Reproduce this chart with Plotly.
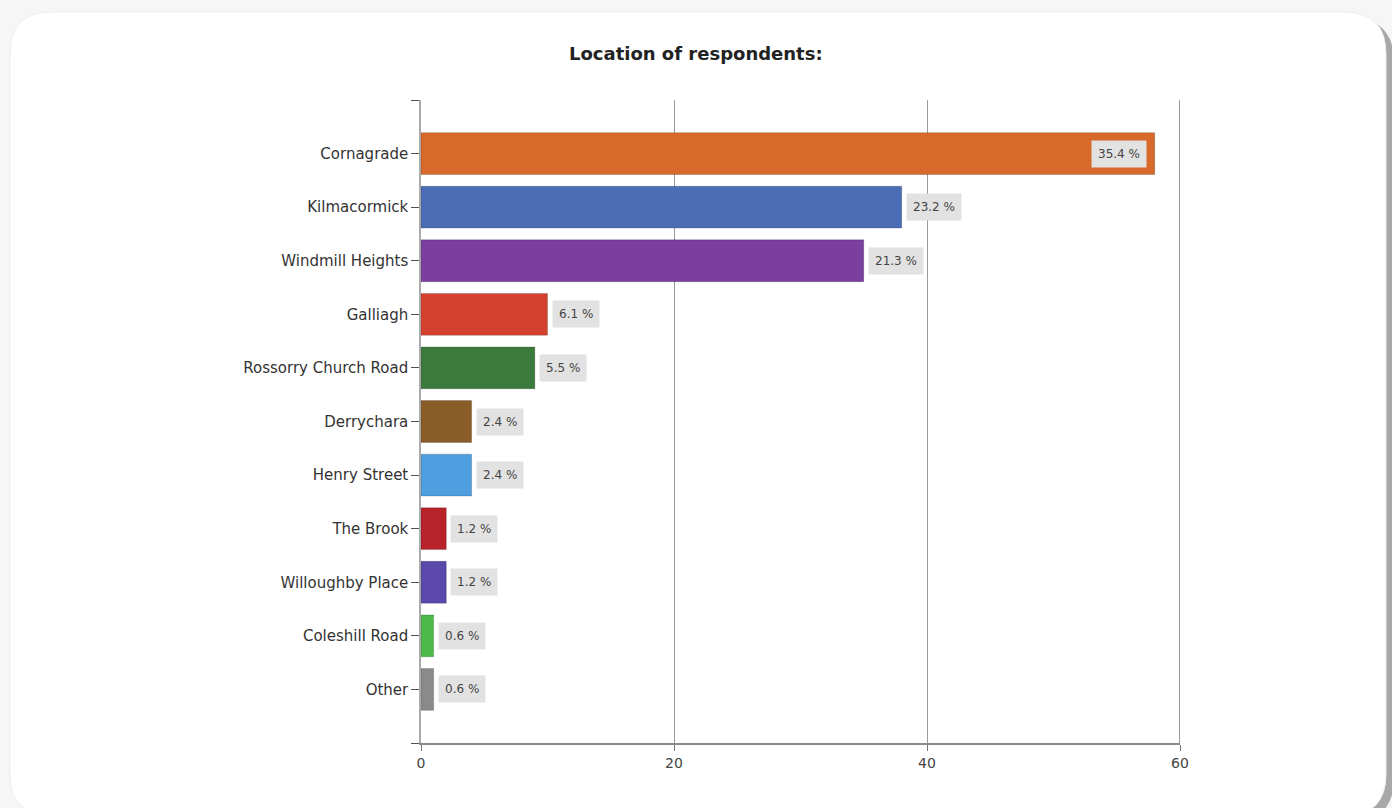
import plotly.graph_objects as go

# Survey responses by location
locations = [
    "Cornagrade", "Kilmacormick", "Windmill Heights", "Galliagh",
    "Rossorry Church Road", "Derrychara", "Henry Street", "The Brook",
    "Willoughby Place", "Coleshill Road", "Other",
]
counts = [58, 38, 35, 10, 9, 4, 4, 2, 2, 1, 1]
percent_labels = ["35.4 %", "23.2 %", "21.3 %", "6.1 %", "5.5 %", "2.4 %",
                  "2.4 %", "1.2 %", "1.2 %", "0.6 %", "0.6 %"]
bar_colors = ["#d7692a", "#4a6db6", "#7b3f9e", "#d5412f", "#3b7a3c",
              "#8a5d28", "#4f9fe0", "#b7222b", "#5a49aa", "#4db94a", "#8a8a8a"]
x_ticks = [0, 20, 40, 60]

W, H = 1392, 808
M_L, M_R, M_T, M_B = 421, 212, 100, 65
PW, PH = W - M_L - M_R, H - M_T - M_B


def px_x(p):
    return (p - M_L) / PW


def px_y(p):
    return 1 - (p - M_T) / PH


positions = list(range(len(locations)))

fig = go.Figure()
fig.add_trace(go.Bar(
    x=counts,
    y=positions,
    orientation="h",
    width=0.78,
    marker=dict(color=bar_colors, line=dict(color="rgba(0,0,0,0.18)", width=1)),
    hoverinfo="skip",
))

# percentage tags next to each bar (inside for the longest one)
annotations = []
top = max(counts)
for i, (v, lab) in enumerate(zip(counts, percent_labels)):
    inside = v == top
    annotations.append(dict(
        x=v, y=i, xref="x", yref="y", text=lab, showarrow=False,
        xanchor="right" if inside else "left",
        xshift=-8 if inside else 4,
        font=dict(family="DejaVu Sans", size=12, color="#444444"),
        bgcolor="#e2e2e2", borderpad=6,
    ))

annotations.append(dict(
    x=px_x(696), y=px_y(53), xref="paper", yref="paper",
    text="<b>Location of respondents:</b>", showarrow=False,
    xanchor="center", yanchor="middle",
    font=dict(family="DejaVu Sans", size=18, color="#222222"),
))


# rounded card behind the chart
def rounded_rect(x0, y0, x1, y1, r):
    X = lambda p: px_x(p)
    Y = lambda p: px_y(p)
    return (f"M {X(x0 + r)} {Y(y0)} L {X(x1 - r)} {Y(y0)} "
            f"Q {X(x1)} {Y(y0)} {X(x1)} {Y(y0 + r)} "
            f"L {X(x1)} {Y(y1 - r)} Q {X(x1)} {Y(y1)} {X(x1 - r)} {Y(y1)} "
            f"L {X(x0 + r)} {Y(y1)} Q {X(x0)} {Y(y1)} {X(x0)} {Y(y1 - r)} "
            f"L {X(x0)} {Y(y0 + r)} Q {X(x0)} {Y(y0)} {X(x0 + r)} {Y(y0)} Z")


shapes = [
    dict(type="path", xref="paper", yref="paper", layer="below",
         path=rounded_rect(16, 18, 1394, 822, 44),
         fillcolor="#a8a8a8", line=dict(width=0)),
    dict(type="path", xref="paper", yref="paper", layer="below",
         path=rounded_rect(10, 12, 1386, 816, 42),
         fillcolor="#ffffff", line=dict(color="#eeeeee", width=1)),
]

fig.update_layout(
    width=W, height=H,
    margin=dict(l=M_L, r=M_R, t=M_T, b=M_B),
    paper_bgcolor="#f6f6f6",
    plot_bgcolor="rgba(0,0,0,0)",
    showlegend=False,
    annotations=annotations,
    shapes=shapes,
    xaxis=dict(
        range=[0, 60], tickvals=x_ticks, ticks="outside", ticklen=6,
        tickcolor="#777777", showgrid=True, gridcolor="#9a9a9a", gridwidth=1,
        showline=True, linecolor="#8a8a8a", linewidth=1.5,
        zeroline=False, mirror=False,
        tickfont=dict(family="DejaVu Sans", size=14, color="#444444"),
    ),
    yaxis=dict(
        range=[len(locations), -1],
        tickvals=[-1] + positions + [len(locations)],
        ticktext=[""] + locations + [""],
        ticks="outside", ticklen=8, tickcolor="#555555",
        showgrid=False, zeroline=False,
        showline=True, linecolor="#aaaaaa", linewidth=1.5,
        tickfont=dict(family="DejaVu Sans", size=15, color="#333333"),
    ),
)

# gridline at the far end of the value axis
fig.add_vline(x=x_ticks[-1], line=dict(color="#777777", width=1.5))

fig.write_html("out.html")
